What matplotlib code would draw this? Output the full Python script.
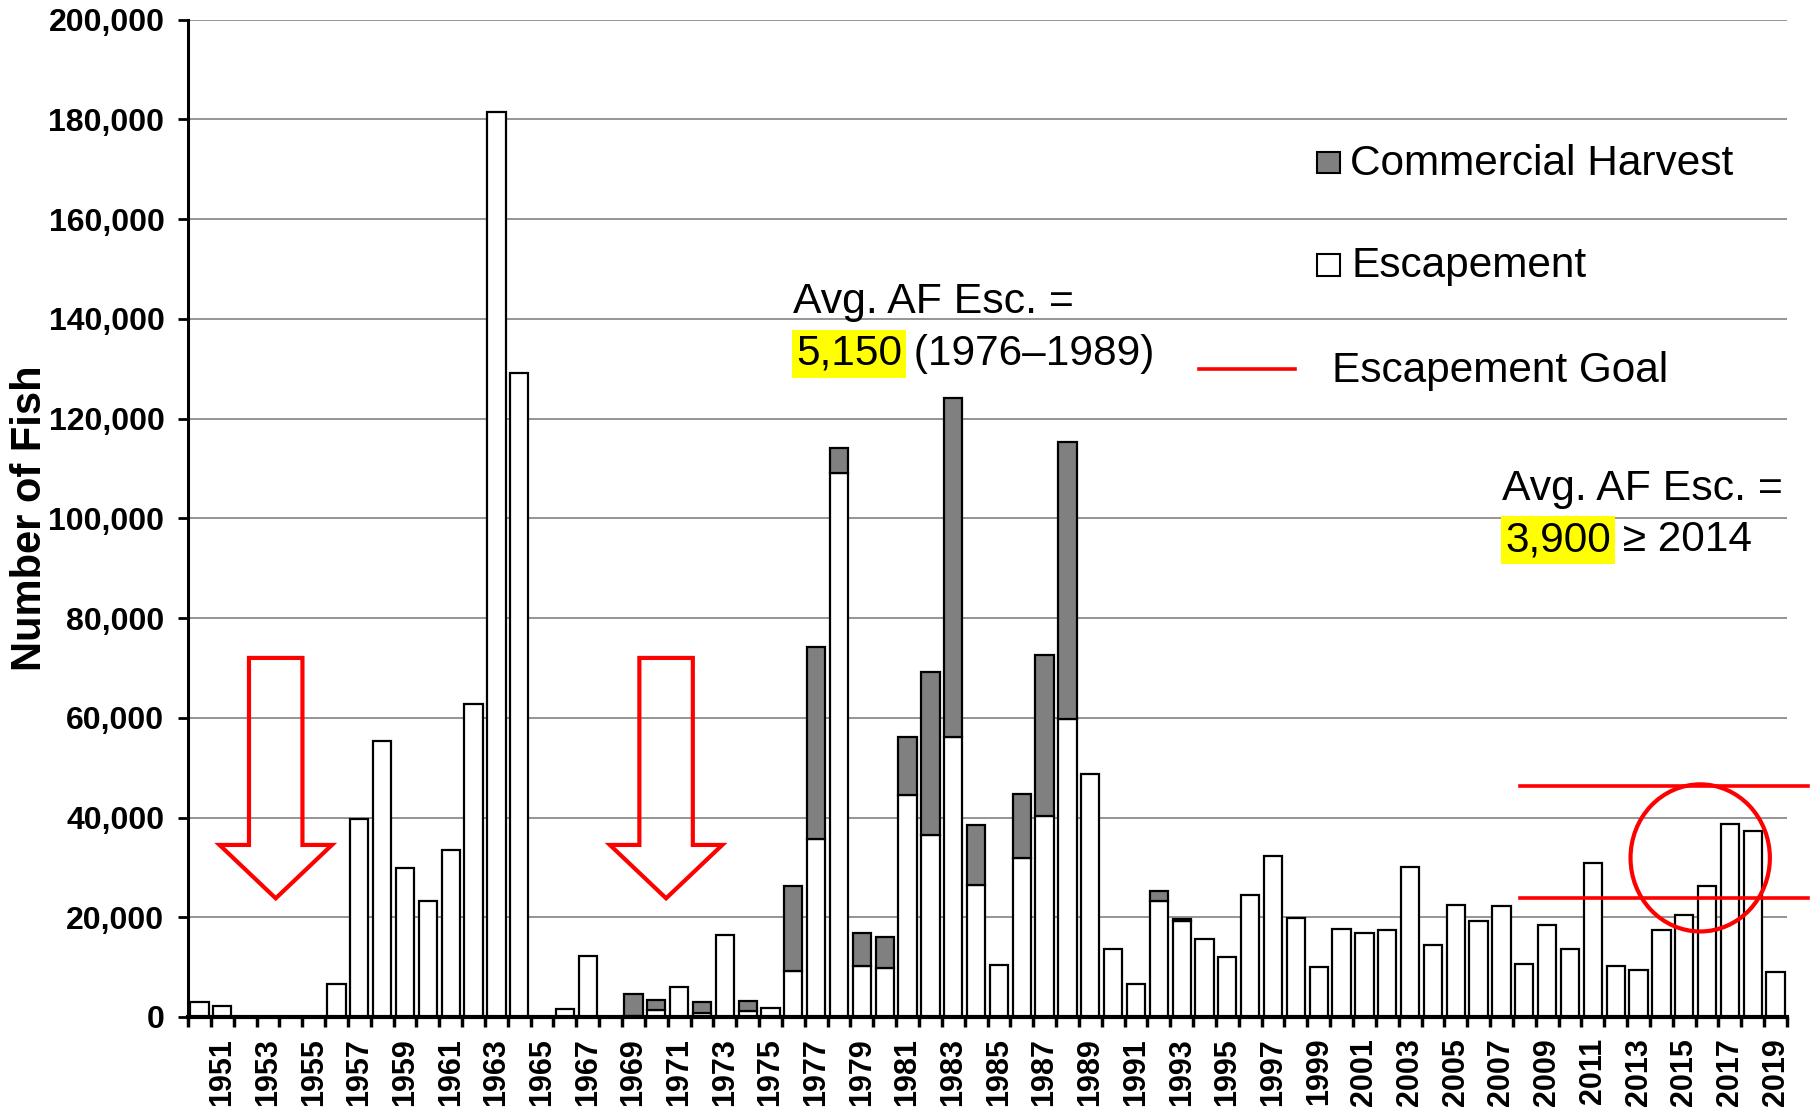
import numpy as np
import matplotlib
matplotlib.use("Agg")
import matplotlib.pyplot as plt
from matplotlib.patches import Rectangle, Ellipse, Polygon
from matplotlib.lines import Line2D
from matplotlib.ticker import FuncFormatter

plt.rcParams['font.family'] = ['Liberation Sans', 'DejaVu Sans']

# ---------------- data ----------------
years = list(range(1950, 2020))
escapement = [
    3100, 2300, np.nan, np.nan, np.nan, np.nan, 6600, 39800, 55300, 29900,   # 1950-59
    23200, 33500, 62800, 181400, 129100, np.nan, 1700, 12200, np.nan, 300,   # 1960-69
    1400, 6000, 750, 16500, 1300, 1750, 9300, 35700, 109000, 10300,          # 1970-79
    9800, 44500, 36500, 56200, 26400, 10400, 31800, 40400, 59700, 48800,     # 1980-89
    13700, 6600, 23200, 19200, 15600, 12000, 24400, 32300, 19800, 10100,     # 1990-99
    17600, 16900, 17500, 30100, 14500, 22500, 19300, 22200, 10700, 18400,    # 2000-09
    13600, 30900, 10300, 9400, 17400, 20400, 26200, 38700, 37300, 9100,      # 2010-19
]
harvest = [
    0, 0, 0, 0, 0, 0, 0, 0, 0, 0,
    0, 0, 0, 0, 0, 0, 0, 0, 0, 4400,
    2000, 0, 2350, 0, 2000, 0, 17000, 38400, 5000, 6500,
    6300, 11600, 32600, 68000, 12100, 0, 13000, 32100, 55700, 0,
    0, 0, 2100, 400, 0, 0, 0, 0, 0, 0,
    0, 0, 0, 0, 0, 0, 0, 0, 0, 0,
    0, 0, 0, 0, 0, 0, 0, 0, 0, 0,
]
goal_lower = 23800
goal_upper = 46300
goal_x_range = [2007.8, 2020.4]
highlight_center = (2015.7, 31900)
highlight_size = (6.1, 29500)
arrow_tips = [1953.34, 1970.43]
arrow_levels = (72000, 34500, 23800)   # shaft top, head base, tip
legend_labels = ['Commercial Harvest', 'Escapement', 'Escapement Goal']
xtick_years = list(range(1951, 2020, 2))

# ---------------- figure ----------------
W, H = 1810, 1109
fig = plt.figure(figsize=(W / 100, H / 100), dpi=100)
ax = fig.add_axes([188 / W, 1 - 1017 / H, (1787 - 188) / W, (1017 - 19.6) / H])

yrs = np.array(years, dtype=float)
esc = np.array(escapement, dtype=float)
hv = np.array(harvest, dtype=float)

valid = ~np.isnan(esc)
ax.bar(yrs[valid], esc[valid], width=0.8, color='white', edgecolor='black',
       linewidth=1.6, zorder=2)
m = hv > 0
ax.bar(yrs[m], hv[m], bottom=np.nan_to_num(esc[m]), width=0.8, color='#808080',
       edgecolor='black', linewidth=1.6, zorder=2)

ax.set_xlim(1949.5, 2019.5)
ax.set_ylim(0, 200000)

ax.yaxis.grid(True, color='#8c8c8c', linewidth=1.3)
ax.set_axisbelow(True)

for s in ['top', 'right']:
    ax.spines[s].set_visible(False)
ax.spines['left'].set_linewidth(2.2)
ax.spines['bottom'].set_linewidth(3)

ax.set_yticks(np.arange(0, 200001, 20000))
ax.yaxis.set_major_formatter(FuncFormatter(lambda v, p: f"{int(v):,}"))
ax.tick_params(axis='y', direction='out', length=7, width=2, pad=10, labelsize=23)

ax.set_xticks(xtick_years)
ax.set_xticklabels([str(y) for y in xtick_years])
ax.tick_params(axis='x', which='major', length=0, pad=15, labelsize=22,
               labelrotation=90)
ax.set_xticks(np.arange(1949.5, 2020, 1), minor=True)
ax.tick_params(axis='x', which='minor', direction='out', length=7, width=2.5)
for lbl in ax.get_xticklabels() + ax.get_yticklabels():
    lbl.set_fontweight('bold')

fig.text(30 / W, 1 - 518 / H, 'Number of Fish', fontsize=30, fontweight='bold',
         rotation=90, ha='center', va='center')

# escapement goal lines and highlight circle
for g in (goal_upper, goal_lower):
    ax.plot(goal_x_range, [g, g], color='red', linewidth=2.6, clip_on=False, zorder=4)
ax.add_patch(Ellipse(highlight_center, highlight_size[0], highlight_size[1],
                     fill=False, edgecolor='red', linewidth=3, zorder=4, clip_on=False))

# red block arrows
top, base, tip = arrow_levels
for tx in arrow_tips:
    pts = [(tx - 1.17, top), (tx + 1.17, top), (tx + 1.17, base), (tx + 2.46, base),
           (tx, tip), (tx - 2.46, base), (tx - 1.17, base)]
    ax.add_patch(Polygon(pts, closed=True, fill=False, edgecolor='red',
                         linewidth=3, zorder=5, joinstyle='miter'))

# ---------------- legend (manual) ----------------
def fx(x):
    return x / W

def fy(y):
    return 1 - y / H

fig.add_artist(Rectangle((fx(1317), fy(173)), 23 / W, 21 / H, transform=fig.transFigure,
                         facecolor='#808080', edgecolor='black', linewidth=1.5))
fig.text(fx(1350), fy(175), legend_labels[0], fontsize=30.5, va='baseline', ha='left')
fig.add_artist(Rectangle((fx(1317), fy(276)), 23 / W, 22 / H, transform=fig.transFigure,
                         facecolor='white', edgecolor='black', linewidth=1.5))
fig.text(fx(1351), fy(277), legend_labels[1], fontsize=30.5, va='baseline', ha='left')
fig.add_artist(Line2D([fx(1199), fx(1295)], [fy(369), fy(369)], transform=fig.transFigure,
                      color='red', linewidth=2.6))
fig.text(fx(1332), fy(382), legend_labels[2], fontsize=30.5, va='baseline', ha='left')

# ---------------- annotations ----------------
hl = dict(boxstyle='square,pad=0.1', facecolor='yellow', edgecolor='none')

fig.text(fx(793), fy(313), 'Avg. AF Esc. =', fontsize=30.8, va='baseline', ha='left')
t1 = fig.text(fx(796), fy(365), '5,150', fontsize=30.5, va='baseline', ha='left', bbox=hl)
ax.annotate(' (1976\u20131989)', xy=(1, 0), xycoords=t1, va='bottom', ha='left',
            fontsize=30.5, annotation_clip=False)

fig.text(fx(1502), fy(500), 'Avg. AF Esc. =', fontsize=30.8, va='baseline', ha='left')
t2 = fig.text(fx(1505), fy(551), '3,900', fontsize=30.5, va='baseline', ha='left', bbox=hl)
ax.annotate(' \u2265 2014', xy=(1, 0), xycoords=t2, va='bottom', ha='left',
            fontsize=30.5, annotation_clip=False)

fig.savefig('out.png', dpi=100)
